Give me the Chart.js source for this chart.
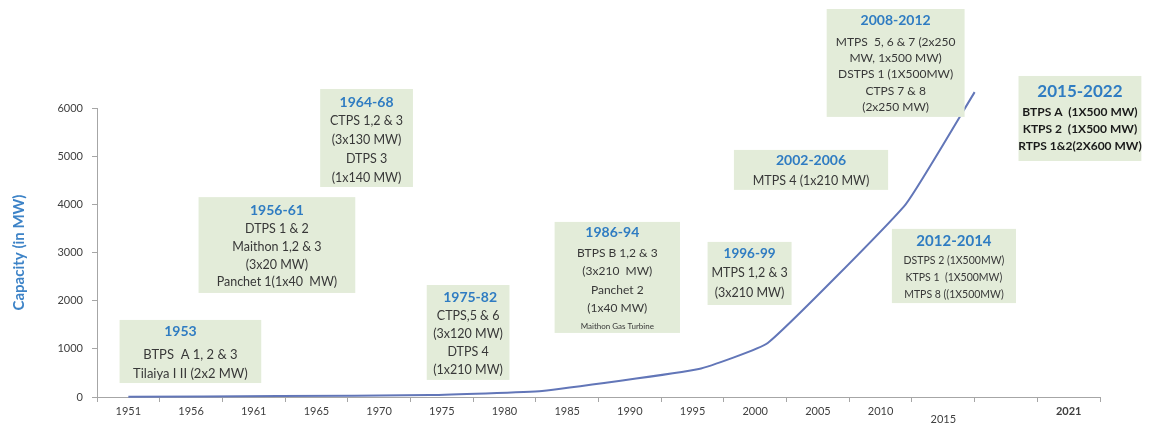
<!DOCTYPE html>
<html>
<head>
<meta charset="utf-8">
<script src="https://cdn.jsdelivr.net/npm/chart.js@4.4.1/dist/chart.umd.min.js"></script>
<style>
  html, body { margin: 0; padding: 0; background: #ffffff; }
  canvas { display: block; }
</style>
</head>
<body>
<canvas id="c" width="1151" height="424"></canvas>
<script>
// ---- data ----
const X_LABELS = ['1951','1956','1961','1965','1970','1975','1980','1985','1990','1995','2000','2005','2010','2015','','2021'];
const Y_TICKS = [0, 1000, 2000, 3000, 4000, 5000, 6000];
const CAP_YEARS = [1950, 1962, 1974, 1983, 1995.5, 2001, 2012, 2017.5];
const CAP_MW    = [4, 20, 40, 125, 580, 1120, 4000, 6330];

const NOTE_TITLES = ['1953','1956-61','1964-68','1975-82','1986-94','1996-99','2002-2006','2008-2012','2012-2014','2015-2022'];
const NOTE_LINES = [
  ['BTPS  A 1, 2 & 3', 'Tilaiya I II (2x2 MW)'],
  ['DTPS 1 & 2', 'Maithon 1,2 & 3', '(3x20 MW)', 'Panchet 1(1x40  MW)'],
  ['CTPS 1,2 & 3', '(3x130 MW)', 'DTPS 3', '(1x140 MW)'],
  ['CTPS,5 & 6', '(3x120 MW)', 'DTPS 4', '(1x210 MW)'],
  ['BTPS B 1,2 & 3', '(3x210  MW)', 'Panchet 2', '(1x40 MW)', 'Maithon Gas Turbine'],
  ['MTPS 1,2 & 3', '(3x210 MW)'],
  ['MTPS 4 (1x210 MW)'],
  ['MTPS  5, 6 & 7 (2x250', 'MW, 1x500 MW)', 'DSTPS 1 (1X500MW)', 'CTPS 7 & 8', '(2x250 MW)'],
  ['DSTPS 2 (1X500MW)', 'KTPS 1  (1X500MW)', 'MTPS 8 ((1X500MW)'],
  ['BTPS A  (1X500 MW)', 'KTPS 2  (1X500 MW)', 'RTPS 1&2(2X600 MW)']
];

// ---- layout / style (anchored in axis units: years, MW) ----
const NOTE_LAYOUT = [
  {x0:1949.3, x1:1960.6, top:1600, bottom:290,  tOff:12, tDx:-10, tSize:14, first:35, gap:19,   size:13},
  {x0:1955.6, x1:1968.1, top:4150, bottom:2160, tOff:13, tDx:0,   tSize:14, first:32, gap:17.7, size:12.5},
  {x0:1965.3, x1:1972.7, top:6395, bottom:4360, tOff:14, tDx:0,   tSize:14, first:32, gap:19,   size:12.5},
  {x0:1973.8, x1:1980.4, top:2325, bottom:355,  tOff:12, tDx:2,   tSize:14, first:31, gap:18,   size:12.5},
  {x0:1984.0, x1:1994.0, top:3635, bottom:1330, tOff:11, tDx:-5,  tSize:14, first:31, gap:18.5, size:12, small:[4]},
  {x0:1996.2, x1:2002.9, top:3220, bottom:1910, tOff:12, tDx:0,   tSize:13.5, first:31, gap:20, size:12.5},
  {x0:1998.3, x1:2010.6, top:5130, bottom:4300, tOff:11, tDx:0,   tSize:14, first:31, gap:18,   size:12.5},
  {x0:2005.7, x1:2016.7, top:8055, bottom:5815, tOff:11, tDx:0,   tSize:14, first:33, gap:16.3, size:12},
  {x0:2010.9, x1:2020.8, top:3490, bottom:1950, tOff:12, tDx:0,   tSize:15, first:32, gap:17,   size:10.5},
  {x0:2021.0, x1:2030.8, top:6665, bottom:4900, tOff:16, tDx:0,   tSize:17, first:36, gap:17,   size:12, bold:true}
];
const FONT = 'Lato, "Open Sans", "Liberation Sans", sans-serif';
const BOX_FILL = '#e3ecd9';
const TITLE_COLOR = '#2f7cc2';
const BODY_COLOR = '#383838';

const notesPlugin = {
  id: 'notes',
  afterDatasetsDraw(chart) {
    const xs = chart.scales.xYear, ys = chart.scales.y, ctx = chart.ctx;
    ctx.save();
    NOTE_TITLES.forEach((title, i) => {
      const L = NOTE_LAYOUT[i];
      const x0 = xs.getPixelForValue(L.x0), x1 = xs.getPixelForValue(L.x1);
      const y0 = ys.getPixelForValue(L.top), y1 = ys.getPixelForValue(L.bottom);
      ctx.fillStyle = BOX_FILL;
      ctx.fillRect(x0, y0, x1 - x0, y1 - y0);
      const cx = (x0 + x1) / 2;
      ctx.textAlign = 'center';
      ctx.textBaseline = 'middle';
      ctx.font = 'bold ' + L.tSize + 'px ' + FONT;
      ctx.fillStyle = TITLE_COLOR;
      ctx.fillText(title, cx + L.tDx, y0 + L.tOff);
      NOTE_LINES[i].forEach((line, j) => {
        const small = L.small && L.small.indexOf(j) >= 0;
        const sz = small ? 8 : L.size;
        ctx.font = (L.bold ? 'bold ' : '') + sz + 'px ' + FONT;
        ctx.fillStyle = L.bold ? '#1a1a1a' : BODY_COLOR;
        ctx.fillText(line, cx, y0 + L.first + j * L.gap);
      });
    });
    ctx.restore();
  }
};

new Chart(document.getElementById('c'), {
  type: 'line',
  data: {
    labels: X_LABELS,
    datasets: [{
      data: CAP_YEARS.map((yr, i) => ({x: yr, y: CAP_MW[i]})),
      xAxisID: 'xYear',
      yAxisID: 'y',
      borderColor: '#6276b8',
      borderWidth: 2,
      pointRadius: 0,
      fill: false,
      tension: 0.12,
      clip: false
    }]
  },
  options: {
    responsive: false,
    animation: false,
    layout: { padding: { top: 108, right: 51, bottom: 0, left: 0 } },
    plugins: { legend: { display: false }, tooltip: { enabled: false } },
    scales: {
      xYear: { type: 'linear', display: false, min: 1947.5, max: 2027.5 },
      x: {
        type: 'category',
        position: 'bottom',
        offset: true,
        afterFit: (s) => { s.height = 27; },
        border: { color: '#a6a6a6', width: 1 },
        grid: { offset: true, drawOnChartArea: false, tickLength: 5, color: '#a6a6a6' },
        ticks: {
          padding: 3,
          color: '#404040',
          maxRotation: 0,
          autoSkip: false,
          font: (ctx) => {
            if (ctx.index === 15) return { family: FONT, size: 11, weight: 'bold' };
            if (ctx.index === 13) return { family: FONT, size: 11, lineHeight: 0.9 };
            return { family: FONT, size: 11 };
          },
          callback: (v, i) => (i === 13 ? ['', X_LABELS[i]] : X_LABELS[i])
        }
      },
      y: {
        min: 0,
        max: 6000,
        afterFit: (s) => { s.width = 97; },
        afterBuildTicks: (s) => { s.ticks = Y_TICKS.map(v => ({ value: v })); },
        border: { color: '#a6a6a6', width: 1 },
        grid: { drawOnChartArea: false, tickLength: 5, color: '#a6a6a6' },
        ticks: { padding: 9, color: '#404040', font: { family: FONT, size: 11 }, callback: (v) => String(v) },
        title: {
          display: true,
          text: 'Capacity (in MW)',
          color: '#3d83c7',
          font: { family: FONT, size: 15, weight: 'bold' },
          padding: { top: 10, bottom: 4 }
        }
      }
    }
  },
  plugins: [notesPlugin]
});
</script>
</body>
</html>
